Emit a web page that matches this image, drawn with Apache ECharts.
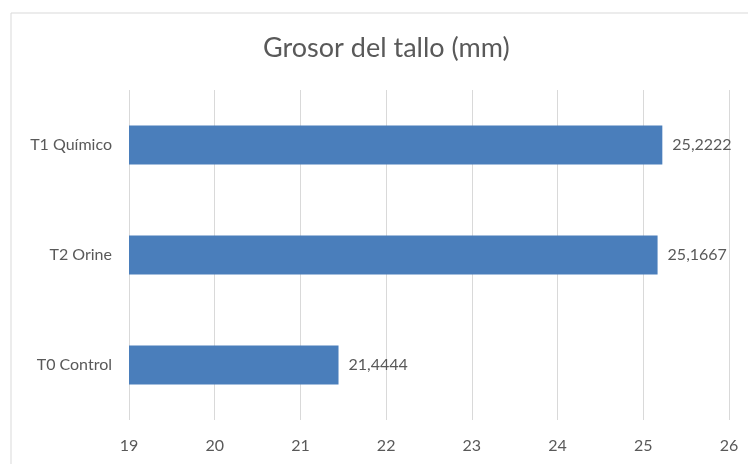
<!DOCTYPE html>
<html><head><meta charset="utf-8">
<script src="https://cdn.jsdelivr.net/npm/echarts@6/dist/echarts.min.js"></script>
<style>html,body{margin:0;padding:0;background:#fff}#c{width:748px;height:464px}</style>
</head><body><div id="c"></div>
<script>
const titleText = 'Grosor del tallo (mm)';
const categories = ['T0 Control', 'T2 Orine', 'T1 Químico'];
const values = [21.4444, 25.1667, 25.2222];
const xTicks = {min: 19, max: 26, interval: 1};

const chart = echarts.init(document.getElementById('c'));
chart.setOption({
  animation: false,
  backgroundColor: '#fff',
  textStyle: {fontFamily: 'Lato'},
  graphic: [{type: 'rect', shape: {x: 11, y: 13, width: 760, height: 470}, style: {fill: 'none', stroke: '#d9d9d9', lineWidth: 1}, silent: true}],
  title: {text: titleText, left: 258, top: 30, textStyle: {fontFamily: 'Lato', fontSize: 27, fontWeight: 'normal', color: '#595959'}},
  grid: {left: 129, right: 19, top: 90, bottom: 44, containLabel: false},
  xAxis: {
    type: 'value', min: xTicks.min, max: xTicks.max, interval: xTicks.interval,
    axisLine: {show: false}, axisTick: {show: false},
    splitLine: {lineStyle: {color: '#d9d9d9', width: 1}},
    axisLabel: {color: '#595959', fontSize: 16, margin: 18, fontFamily: 'Lato'}
  },
  yAxis: {
    type: 'category', data: categories,
    axisLine: {show: false}, axisTick: {show: false},
    axisLabel: {color: '#595959', fontSize: 16, margin: 17, fontFamily: 'Lato'}
  },
  series: [{
    type: 'bar', data: values, barWidth: 39,
    itemStyle: {color: '#4a7ebb'},
    label: {show: true, position: 'right', distance: 10, color: '#595959', fontSize: 16, fontFamily: 'Lato',
      formatter: p => String(p.value).replace('.', ',')}
  }]
});
</script></body></html>
